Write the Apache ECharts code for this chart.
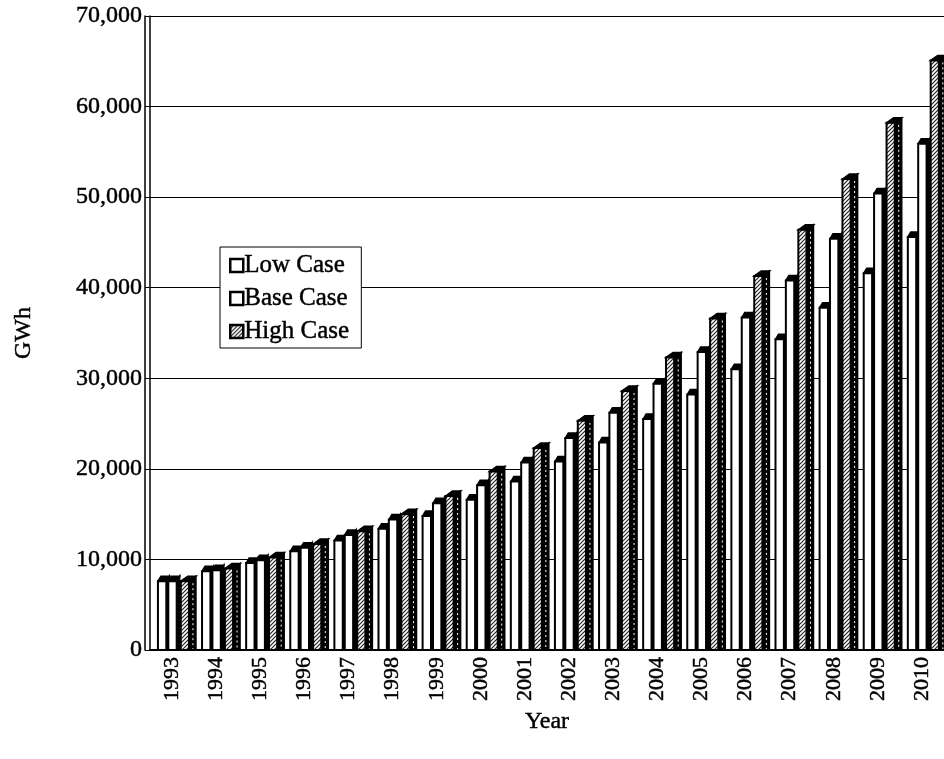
<!DOCTYPE html>
<html>
<head>
<meta charset="utf-8">
<script src="https://cdn.jsdelivr.net/npm/echarts@6/dist/echarts.min.js"></script>
<style>
  html, body { margin: 0; padding: 0; background: #fff; }
  #chart { width: 944px; height: 759px; }
</style>
</head>
<body>
<div id="chart"></div>
<script>
// Electricity demand projections (GWh) by scenario
const years = ['1993','1994','1995','1996','1997','1998','1999','2000','2001',
               '2002','2003','2004','2005','2006','2007','2008','2009','2010'];
const lowCase  = [7600, 8700, 9600, 10900, 12100, 13400, 14800, 16600, 18600,
                  20800, 22900, 25500, 28200, 31000, 34300, 37800, 41600, 45600];
const baseCase = [7600, 8800, 9900, 11300, 12700, 14400, 16200, 18200, 20700,
                  23400, 26200, 29400, 32900, 36700, 40800, 45400, 50400, 55900];
const highCase = [7600, 9000, 10200, 11700, 13100, 15000, 17000, 19700, 22300,
                  25300, 28600, 32300, 36600, 41300, 46400, 52000, 58200, 65100];
const yTicks = [0, 10000, 20000, 30000, 40000, 50000, 60000, 70000];

const FONT = '"Liberation Serif", "DejaVu Serif", serif';
// slight stroke to give the serif text a heavier, printed look
const INK = { textBorderColor: '#000', textBorderWidth: 0.45 };

// diagonal hatch used for the High Case bars
function makeHatch() {
  const c = document.createElement('canvas');
  c.width = 4; c.height = 4;
  const g = c.getContext('2d');
  g.fillStyle = '#fff';
  g.fillRect(0, 0, 4, 4);
  g.strokeStyle = '#222';
  g.lineWidth = 1.2;
  g.beginPath();
  g.moveTo(-1, 5); g.lineTo(5, -1);
  g.moveTo(-1, 1); g.lineTo(1, -1);
  g.moveTo(3, 5); g.lineTo(5, 3);
  g.stroke();
  return { image: c, repeat: 'repeat' };
}
const hatch = makeHatch();

// per-series placement inside a category band (fractions of band width)
const layout = [
  { off: -0.32, w: 0.19, depth: 3, fill: '#fff' },
  { off: -0.085, w: 0.19, depth: 3, fill: '#fff' },
  { off: 0.198, w: 0.185, depth: 7, fill: hatch, dotted: true }
];
const capRise = 5;

function bar3d(seriesIdx) {
  const L = layout[seriesIdx];
  return function (params, api) {
    const idx = api.value(0);
    const topPt = api.coord([idx, api.value(1)]);
    const basePt = api.coord([idx, 0]);
    const band = api.size([1, 0])[0];
    const x0 = topPt[0] + L.off * band;
    const w = L.w * band;
    const x1 = x0 + w;
    const top = topPt[1];
    const bottom = basePt[1];
    const d = L.depth;
    const children = [
      { type: 'polygon', shape: { points: [[x1, top], [x1 + d, top - capRise], [x1 + d, bottom], [x1, bottom]] },
        style: { fill: '#000', stroke: '#000', lineWidth: 1.5 } },
      { type: 'polygon', shape: { points: [[x0, top], [x0 + d, top - capRise], [x1 + d, top - capRise], [x1, top]] },
        style: { fill: '#000', stroke: '#000', lineWidth: 1.5 } },
      { type: 'rect', shape: { x: x0, y: top, width: w, height: bottom - top },
        style: { fill: L.fill, stroke: '#000', lineWidth: 2 } }
    ];
    if (L.dotted) {
      children.push({ type: 'line',
        shape: { x1: x1 + d / 2 + 0.5, y1: top + 2, x2: x1 + d / 2 + 0.5, y2: bottom - 1 },
        style: { stroke: '#fff', lineWidth: 1, lineDash: [2, 3] } });
    }
    return { type: 'group', children: children };
  };
}

function fmt(v) {
  return String(v).replace(/\B(?=(\d{3})+(?!\d))/g, ',');
}

const names = ['Low Case', 'Base Case', 'High Case'];
const sets = [lowCase, baseCase, highCase];

const chart = echarts.init(document.getElementById('chart'), null, { renderer: 'canvas' });
chart.setOption({
  backgroundColor: '#fff',
  animation: false,
  textStyle: { fontFamily: FONT, color: '#000' },
  grid: { left: 150, top: 16, width: 800, height: 634 },
  legend: {
    orient: 'vertical',
    left: 220, top: 247,
    itemWidth: 13, itemHeight: 13, itemGap: 6,
    padding: [5, 12, 3, 9],
    backgroundColor: '#fff',
    borderColor: '#000', borderWidth: 1,
    textStyle: Object.assign({ fontFamily: FONT, fontSize: 25, lineHeight: 27, color: '#000', padding: [0, 0, 0, -4] }, INK),
    data: [
      { name: 'Low Case', icon: 'rect', itemStyle: { color: '#fff', borderColor: '#000', borderWidth: 2.5 } },
      { name: 'Base Case', icon: 'rect', itemStyle: { color: '#fff', borderColor: '#000', borderWidth: 2.5 } },
      { name: 'High Case', icon: 'rect', itemStyle: { color: hatch, borderColor: '#000', borderWidth: 2.5 } }
    ],
    z: 10
  },
  xAxis: {
    type: 'category',
    data: years,
    name: 'Year',
    nameLocation: 'middle',
    nameGap: 60,
    nameTextStyle: Object.assign({ fontFamily: FONT, fontSize: 24, color: '#000' }, INK),
    axisLine: { lineStyle: { color: '#000', width: 2 } },
    axisTick: { show: false },
    axisLabel: Object.assign({ rotate: 90, fontFamily: FONT, fontSize: 22, color: '#000', margin: 7 }, INK),
    splitLine: { show: false }
  },
  yAxis: [{
    type: 'value',
    min: 0, max: 70000, interval: 10000,
    name: 'GWh',
    nameLocation: 'middle',
    nameGap: 114,
    nameTextStyle: Object.assign({ fontFamily: FONT, fontSize: 24, color: '#000' }, INK),
    axisLine: { show: true, lineStyle: { color: '#000', width: 1.5 } },
    axisTick: { show: true, length: 5, lineStyle: { color: '#000' } },
    axisLabel: Object.assign({ fontFamily: FONT, fontSize: 24, color: '#000', margin: 8,
      formatter: function (v) { return yTicks.indexOf(v) >= 0 ? fmt(v) : ''; } }, INK),
    splitLine: { show: true, lineStyle: { color: '#000', width: 1 } }
  }, {
    type: 'value',
    position: 'left',
    offset: 5,
    min: 0, max: 70000, interval: 10000,
    axisLine: { show: true, lineStyle: { color: '#000', width: 1.5 } },
    axisTick: { show: false },
    axisLabel: { show: false },
    splitLine: { show: false }
  }],
  series: names.map(function (n, i) {
    return {
      name: n,
      type: 'custom',
      renderItem: bar3d(i),
      encode: { x: 0, y: 1 },
      itemStyle: { color: i === 2 ? hatch : '#fff', borderColor: '#000' },
      data: sets[i].map(function (v, k) { return [k, v]; }),
      clip: true
    };
  })
});
</script>
</body>
</html>
